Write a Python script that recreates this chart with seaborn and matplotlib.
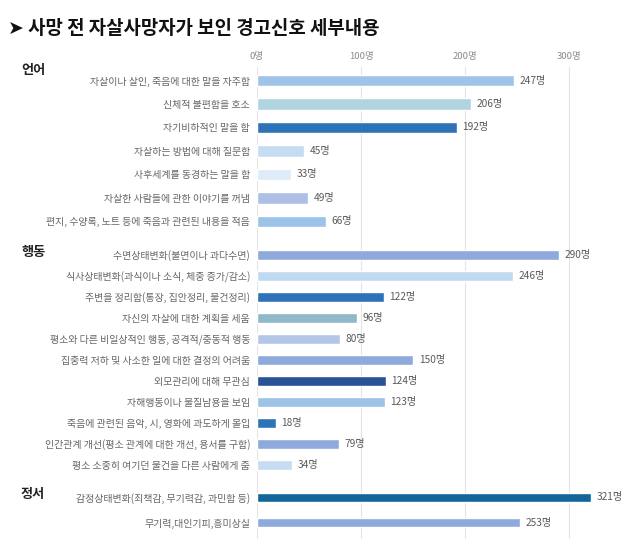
import matplotlib
matplotlib.use("Agg")
import matplotlib.pyplot as plt
import pandas as pd
import seaborn as sns

# ---------------- data ----------------
title = "➤ 사망 전 자살사망자가 보인 경고신호 세부내용"
groups = ["언어", "행동", "정서"]

lang_labels = [
    "자살이나 살인, 죽음에 대한 말을 자주함",
    "신체적 불편함을 호소",
    "자기비하적인 말을 함",
    "자살하는 방법에 대해 질문함",
    "사후세계를 동경하는 말을 함",
    "자살한 사람들에 관한 이야기를 꺼냄",
    "편지, 수양록, 노트 등에 죽음과 관련된 내용을 적음",
]
lang_values = [247, 206, 192, 45, 33, 49, 66]
lang_colors = ["#a0c4e8", "#b0d5e1", "#2e72b8", "#c6dcf3", "#deebf8", "#aebfe6", "#9dc3e9"]

behav_labels = [
    "수면상태변화(불면이나 과다수면)",
    "식사상태변화(과식이나 소식, 체중 증가/감소)",
    "주변을 정리함(통장, 집안정리, 물건정리)",
    "자신의 자살에 대한 계획을 세움",
    "평소와 다른 비일상적인 행동, 공격적/충동적 행동",
    "집중력 저하 및 사소한 일에 대한 결정의 어려움",
    "외모관리에 대해 무관심",
    "자해행동이나 물질남용을 보임",
    "죽음에 관련된 음악, 시, 영화에 과도하게 몰입",
    "인간관계 개선(평소 관계에 대한 개선, 용서를 구함)",
    "평소 소중히 여기던 물건을 다른 사람에게 줌",
]
behav_values = [290, 246, 122, 96, 80, 150, 124, 123, 18, 79, 34]
behav_colors = ["#8eaadd", "#c0daf2", "#2e72b8", "#8fb8c9", "#b4c6e8", "#8eaadd",
                "#2a5396", "#9dc3e6", "#2e72b8", "#8eaadd", "#c5dcf2"]

emo_labels = [
    "감정상태변화(죄책감, 무기력감, 과민함 등)",
    "무기력,대인기피,흥미상실",
]
emo_values = [321, 253]
emo_colors = ["#14659a", "#8eaadd"]

x_ticks = [0, 100, 200, 300]
x_tick_labels = ["0명", "100명", "200명", "300명"]
value_suffix = "명"

# ---------------- style ----------------
sns.set_theme(style="white")
FONT = ["Noto Sans CJK KR", "DejaVu Sans"]
plt.rcParams["font.family"] = FONT

W, H = 637, 539
fig = plt.figure(figsize=(W / 100, H / 100), dpi=100)


def rect(x0, y_top, x1, y_bot):
    return [x0 / W, 1 - y_bot / H, (x1 - x0) / W, (y_bot - y_top) / H]


XMAX = 365
AX_L, AX_R = 257, 637

# background axes with grid and top tick labels
bg = fig.add_axes(rect(AX_L, 67, AX_R, 539))
bg.set_xlim(0, XMAX)
bg.set_ylim(0, 1)
bg.set_xticks(x_ticks)
bg.set_xticklabels(x_tick_labels, fontsize=6.8, color="#8a8a8a")
bg.xaxis.tick_top()
bg.tick_params(axis="x", length=0, pad=4)
bg.set_yticks([])
for s in bg.spines.values():
    s.set_visible(False)
bg.grid(axis="x", color="#e4e4e4", linewidth=0.8)
bg.set_facecolor("none")

panels = [
    (lang_labels, lang_values, lang_colors, (68.8, 233.1), 0.49, groups[0], 70),
    (behav_labels, behav_values, behav_colors, (244.2, 475.5), 0.475, groups[1], 252),
    (emo_labels, emo_values, emo_colors, (484.5, 535.2), 0.36, groups[2], 494),
]

for labels, values, colors, (yt, yb), bw, gname, gy in panels:
    ax = fig.add_axes(rect(AX_L, yt, AX_R, yb))
    df = pd.DataFrame({"label": labels, "value": values})
    sns.barplot(data=df, x="value", y="label", hue="label", palette=colors,
                legend=False, orient="h", width=bw, ax=ax, saturation=1)
    ax.set_xlim(0, XMAX)
    ax.set_facecolor("none")
    ax.set_xlabel("")
    ax.set_ylabel("")
    ax.set_xticks([])
    ax.tick_params(axis="y", length=0, pad=5, labelsize=7.2, labelcolor="#666666")
    for s in ax.spines.values():
        s.set_visible(False)
    ax.grid(False)
    for c in ax.containers:
        ax.bar_label(c, fmt="{:.0f}" + value_suffix, padding=4, fontsize=7.3,
                     color="#5a5a5a")
    fig.text(21 / W, 1 - gy / H, gname, fontsize=9.5, fontweight="bold",
             color="#222222", ha="left", va="center", family=FONT)

fig.text(8 / W, 1 - 29 / H, title, fontsize=13.6, fontweight="bold", color="#111111",
         ha="left", va="center", family=FONT)

fig.savefig("out.png", dpi=100, facecolor="white")
